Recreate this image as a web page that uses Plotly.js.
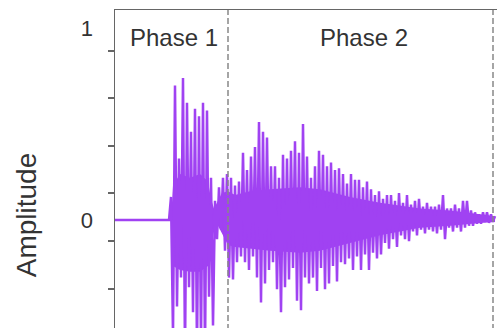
<!DOCTYPE html>
<html>
<head>
<meta charset="utf-8">
<script src="https://cdn.plot.ly/plotly-3.0.1.min.js"></script>
<style>
  html, body { margin: 0; padding: 0; overflow: hidden; background: #fff; }
  #chart { width: 520px; height: 437px; }
</style>
</head>
<body>
<div id="chart"></div>
<script>
// Sampled signal: first sample time and sampling step (time units)
const sampleStart = 0;
const sampleStep = 2;

// Amplitude values (alternating peaks / troughs)
const amplitude = [
  0,0,0,0,0,0,0,0,0,0,0,0,0,0,0,0,0,0,0,0,0,0,0,0,0,0,0,0,
  0.12,-0.60,0.70,-0.45,0.32,-0.30,0.74,-0.72,0.61,-0.35,
  0.46,-0.48,0.58,-0.70,0.54,-0.65,0.61,-0.70,0.57,-0.40,
  0.22,-0.55,0.10,-0.10,0.17,-0.05,0.22,-0.16,0.24,
  -0.30,0.22,-0.31,0.18,-0.22,0.20,-0.19,0.35,-0.22,0.26,
  -0.26,0.33,-0.19,0.38,-0.30,0.51,-0.43,0.46,-0.33,0.43,
  -0.26,0.28,-0.22,0.28,-0.36,0.22,-0.48,0.34,-0.35,0.32,
  -0.31,0.36,-0.25,0.41,-0.42,0.35,-0.47,0.50,-0.30,0.33,
  -0.33,0.22,-0.30,0.28,-0.37,0.36,-0.25,0.34,-0.36,0.28,
  -0.33,0.30,-0.24,0.26,-0.32,0.27,-0.22,0.24,-0.23,0.19,
  -0.20,0.24,-0.26,0.21,-0.19,0.21,-0.26,0.17,-0.18,0.20,
  -0.26,0.16,-0.17,0.13,-0.20,0.15,-0.18,0.11,-0.12,0.13,
  -0.15,0.13,-0.10,0.10,-0.14,0.14,-0.08,0.09,-0.10,0.13,
  -0.11,0.08,-0.06,0.10,-0.08,0.11,-0.05,0.07,-0.07,0.09,
  -0.05,0.07,-0.06,0.07,-0.07,0.08,-0.05,0.13,-0.10,0.06,
  -0.04,0.06,-0.06,0.08,-0.04,0.06,-0.06,0.10,-0.04,0.10,
  -0.03,0.05,-0.03,0.04,-0.02,0.03,-0.02,0.04,-0.01,0.04,
  -0.015,0.03,-0.01,0.02
];

// Dense core of the oscillation (upper / lower limits of the solid band)
const coreTime  = [56, 58, 65, 75, 85, 93, 96, 99, 103, 107, 113, 120, 135, 155, 185, 205, 235, 265, 305, 335, 365, 380];
const coreUpper = [0, 0.18, 0.24, 0.22, 0.24, 0.20, 0.11, 0.06, 0.10, 0.14, 0.15, 0.13, 0.15, 0.16, 0.17, 0.16, 0.12, 0.09, 0.06, 0.05, 0.03, 0.02];
const coreLower = [0, -0.24, -0.26, -0.27, -0.27, -0.24, -0.15, -0.06, -0.03, -0.07, -0.13, -0.14, -0.15, -0.16, -0.17, -0.16, -0.12, -0.08, -0.04, -0.03, -0.015, -0.01];

// Phase boundaries (time units) and phase labels
const phaseBoundaries = [113, 378];
const phaseLabels = ["Phase 1", "Phase 2"];
const phaseLabelTimes = [59, 249];

// Y axis labels
const yTickVals = [0, 1];
const yTickText = ["0", "1"];
const yMinorTickVals = [-0.86, -0.61, -0.36, -0.11, 0.14, 0.385, 0.635, 0.88];

const font = "Liberation Sans, Arial, Helvetica, sans-serif";
const purple = "#a042f2";

const coreLow = {
  type: "scatter", mode: "lines",
  x: coreTime, y: coreLower,
  line: { color: purple, width: 0 },
  hoverinfo: "skip", showlegend: false
};
const coreHigh = {
  type: "scatter", mode: "lines",
  x: coreTime, y: coreUpper,
  fill: "tonexty", fillcolor: purple,
  line: { color: purple, width: 0 },
  hoverinfo: "skip", showlegend: false
};
const signal = {
  type: "scatter", mode: "lines",
  y: amplitude, x0: sampleStart, dx: sampleStep,
  line: { color: purple, width: 2.5 },
  hoverinfo: "skip", showlegend: false
};

const shapes = phaseBoundaries.map(t => ({
  type: "line", xref: "x", yref: "paper",
  x0: t, x1: t, y0: 0, y1: 1,
  line: { color: "#888", width: 1.5, dash: "6px,3px" }
}));

const annotations = phaseLabels.map((txt, i) => ({
  text: txt, xref: "x", yref: "y",
  x: phaseLabelTimes[i], y: 0.948,
  showarrow: false,
  font: { family: font, size: 24, color: "#333" },
  xanchor: "center", yanchor: "middle"
}));

const layout = {
  width: 520, height: 437,
  margin: { l: 115, r: 5, t: 10, b: 17 },
  paper_bgcolor: "#fff", plot_bgcolor: "#fff",
  showlegend: false,
  xaxis: {
    range: [0, 400],
    showticklabels: false, ticks: "",
    showgrid: false, zeroline: false,
    showline: true, mirror: true, linecolor: "#666", linewidth: 1.5
  },
  yaxis: {
    range: [-1.041667, 1.09375],
    tickmode: "array", tickvals: yTickVals, ticktext: yTickText,
    ticks: "", ticklabelstandoff: 16,
    tickfont: { family: font, size: 22, color: "#333" },
    minor: { tickmode: "array", tickvals: yMinorTickVals, ticks: "outside", ticklen: 6, tickwidth: 1.5, tickcolor: "#666" },
    showgrid: false, zeroline: false,
    showline: true, mirror: true, linecolor: "#666", linewidth: 1.5,
    title: { text: "Amplitude", font: { family: font, size: 28, color: "#333" }, standoff: 36 }
  },
  shapes: shapes,
  annotations: annotations
};

Plotly.newPlot("chart", [coreLow, coreHigh, signal], layout, { staticPlot: true, displayModeBar: false });
</script>
</body>
</html>
